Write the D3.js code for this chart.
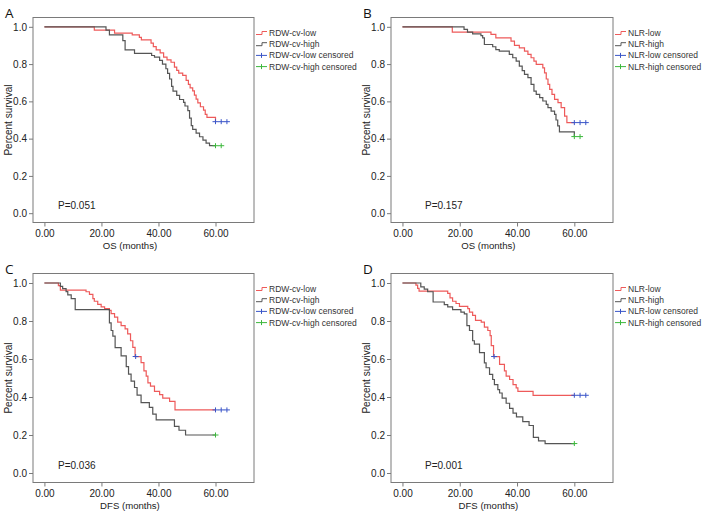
<!DOCTYPE html>
<html><head><meta charset="utf-8">
<script src="https://cdn.jsdelivr.net/npm/d3@7"></script>
<style>
body{margin:0;background:#fff}
svg{display:block}
text{font-family:"Liberation Sans",Arial,Helvetica,sans-serif}
</style>
</head><body>
<svg id="c" width="702" height="513"></svg>
<script>
// ---- tick values ----
const monthTicks = [0, 20, 40, 60];
const survTicks = [0, 0.2, 0.4, 0.6, 0.8, 1.0];

// ---- Panel A: OS by RDW-cv ([months, survival]) ----
const aLow = [[0,1],[17.5,0.982],[24.6,0.966],[30.8,0.957],[33.3,0.943],[34,0.93],[37.4,0.913],[38.2,0.894],[39.2,0.876],[40.6,0.86],[41.8,0.837],[43,0.823],[44.4,0.81],[45.6,0.784],[46.4,0.766],[47.1,0.752],[48.5,0.739],[49.7,0.713],[50.5,0.691],[51.1,0.672],[52,0.656],[52.6,0.633],[53.2,0.612],[53.8,0.592],[54.7,0.571],[55.8,0.553],[56.4,0.53],[57,0.514],[60,0.491]];
const aHigh = [[0,1],[21.6,0.982],[22.8,0.957],[27.5,0.926],[28.3,0.876],[31.6,0.858],[37.6,0.846],[38.6,0.837],[40.4,0.82],[41.4,0.8],[42.6,0.775],[43.2,0.75],[43.9,0.72],[44.6,0.68],[45.1,0.655],[46.4,0.632],[47.4,0.61],[48.8,0.595],[49.3,0.575],[50.3,0.55],[50.9,0.51],[51.5,0.47],[52,0.45],[53.2,0.43],[54.4,0.41],[55.6,0.392],[56.7,0.376],[57.9,0.362]];
const aLowCens = [60, 62, 64];
const aHighCens = [60, 62];

// ---- Panel B: OS by NLR ----
const bLow = [[0,1],[17.4,0.972],[30.9,0.959],[32.6,0.941],[37.9,0.923],[39.1,0.9],[40.8,0.887],[42.6,0.87],[43.8,0.852],[44.9,0.834],[45.9,0.816],[46.7,0.798],[49,0.78],[49.6,0.753],[50.2,0.72],[50.8,0.691],[51.4,0.664],[52.2,0.637],[53.1,0.611],[54.3,0.593],[55.4,0.566],[56.6,0.521],[57.4,0.486]];
const bHigh = [[0,1],[21.5,0.986],[22.7,0.971],[24.5,0.962],[27.4,0.953],[28,0.941],[28.6,0.905],[31.5,0.893],[32.6,0.878],[33.8,0.87],[37.3,0.852],[38.5,0.834],[39.7,0.816],[40.8,0.789],[41.8,0.765],[42.6,0.745],[43.8,0.727],[44.9,0.691],[45.9,0.655],[46.7,0.637],[47.9,0.62],[49,0.602],[50.2,0.584],[50.8,0.566],[51.9,0.548],[53.1,0.53],[53.6,0.5],[54.2,0.468],[54.8,0.436],[60,0.411]];
const bLowCens = [60, 62, 64];
const bHighCens = [60, 62];

// ---- Panel C: DFS by RDW-cv ----
const cLow = [[0,1],[4.9,0.986],[5.6,0.963],[14.6,0.954],[15.8,0.94],[17,0.918],[17.5,0.904],[18.7,0.887],[19.9,0.874],[21.1,0.865],[22.8,0.856],[23.4,0.839],[24.6,0.82],[25.7,0.794],[26.9,0.776],[28.3,0.759],[29.2,0.732],[30.2,0.696],[31,0.661],[31.8,0.613],[33.9,0.581],[34.9,0.537],[35.7,0.51],[36.3,0.474],[37.2,0.457],[38.6,0.43],[40.4,0.412],[41.5,0.394],[43.9,0.377],[45.8,0.332]];
const cHigh = [[0,1],[5.6,0.982],[6.4,0.97],[7.6,0.955],[8.2,0.938],[9.4,0.918],[10.8,0.86],[22.8,0.79],[23.4,0.75],[24,0.72],[24.8,0.66],[26.9,0.616],[28.7,0.56],[29.5,0.52],[30.4,0.484],[31.6,0.45],[32.5,0.41],[33.9,0.37],[36.8,0.345],[38,0.31],[39.2,0.28],[45.6,0.245],[47.2,0.225],[49.5,0.2]];
const cLowCens = [32, 60, 62, 64];
const cHighCens = [60];

// ---- Panel D: DFS by NLR ----
const dLow = [[0,1],[4.7,0.989],[5.3,0.972],[5.8,0.957],[15.8,0.945],[16.6,0.922],[17.5,0.904],[18.7,0.892],[19.9,0.877],[22.8,0.865],[23.4,0.847],[24.5,0.83],[25.5,0.803],[27.5,0.794],[28.6,0.768],[29.8,0.75],[30.6,0.723],[31,0.67],[31.8,0.613],[33.9,0.572],[35.6,0.537],[36.2,0.51],[37.4,0.492],[38.6,0.465],[39.7,0.448],[40.3,0.43],[45.6,0.409]];
const dHigh = [[0,1],[6.4,0.98],[7.6,0.968],[8.8,0.954],[10.7,0.9],[14.6,0.886],[15.8,0.874],[17.5,0.86],[20.4,0.847],[21.6,0.838],[22.5,0.776],[23.4,0.75],[24.5,0.696],[25.1,0.678],[26.9,0.634],[28.6,0.58],[29.2,0.554],[30.4,0.519],[31.5,0.492],[32.1,0.465],[33.3,0.439],[33.9,0.421],[34.8,0.394],[36.2,0.367],[37.4,0.34],[38.6,0.315],[39.8,0.295],[42,0.27],[44.2,0.25],[45.7,0.187],[47.5,0.169],[49.8,0.155]];
const dLowCens = [32, 60, 62, 64];
const dHighCens = [60];

const rdwNames = ["RDW-cv-low", "RDW-cv-high", "RDW-cv-low censored", "RDW-cv-high censored"];
const nlrNames = ["NLR-low", "NLR-high", "NLR-low censored", "NLR-high censored"];
const pValues = ["P=0.051", "P=0.157", "P=0.036", "P=0.001"];
const xTitles = ["OS (months)", "OS (months)", "DFS (months)", "DFS (months)"];
const letters = ["A", "B", "C", "D"];

// ---- colours / layout ----
const RED = "#ee5a5a", GRAY = "#555555", BLUE = "#3a55c8", GREEN = "#3cb83c";
const FRAME = "#7a7a7a";

const panels = [
  {low:aLow, high:aHigh, lowC:aLowCens, highC:aHighCens, names:rdwNames, left:33, right:254, top:17.5, bottom:222.5, pX:58},
  {low:bLow, high:bHigh, lowC:bLowCens, highC:bHighCens, names:nlrNames, left:391, right:613, top:17.5, bottom:222.5, pX:425},
  {low:cLow, high:cHigh, lowC:cLowCens, highC:cHighCens, names:rdwNames, left:33, right:254, top:273.5, bottom:482.5, pX:58},
  {low:dLow, high:dHigh, lowC:dLowCens, highC:dHighCens, names:nlrNames, left:391, right:613, top:273.5, bottom:482.5, pX:425}
];

const svg = d3.select("#c");

function survAt(series, t) {
  let s = 1;
  for (const [tt, ss] of series) { if (tt <= t) s = ss; }
  return s;
}

panels.forEach((p, i) => {
  const g = svg.append("g");
  const x = d3.scaleLinear().domain([-4, 73.5]).range([p.left, p.right]);
  const y = d3.scaleLinear().domain([-0.05, 1.05]).range([p.bottom, p.top]);

  // frame
  g.append("rect").attr("x", p.left).attr("y", p.top)
    .attr("width", p.right - p.left).attr("height", p.bottom - p.top)
    .attr("fill", "none").attr("stroke", FRAME).attr("stroke-width", 1);

  // axes
  const ya = g.append("g").attr("transform", `translate(${p.left},0)`)
    .call(d3.axisLeft(y).tickValues(survTicks).tickFormat(d3.format(".1f")).tickSize(4).tickPadding(2));
  const xa = g.append("g").attr("transform", `translate(0,${p.bottom})`)
    .call(d3.axisBottom(x).tickValues(monthTicks).tickFormat(d3.format(".2f")).tickSize(4).tickPadding(3));
  [ya, xa].forEach(a => {
    a.select(".domain").remove();
    a.selectAll(".tick line").attr("stroke", FRAME);
    a.selectAll(".tick text").attr("fill", "#222").style("font-size", "10px")
      .style("font-family", '"Liberation Sans", Arial, sans-serif');
  });

  // axis titles
  g.append("text").attr("transform", `translate(${p.left - 21},${(p.top + p.bottom) / 2}) rotate(-90)`)
    .attr("text-anchor", "middle").attr("fill", "#222").style("font-size", "10px").text("Percent survival");
  g.append("text").attr("x", x(30)).attr("y", p.bottom + 26)
    .attr("text-anchor", "middle").attr("fill", "#222").style("font-size", "9.6px").text(xTitles[i]);

  // panel letter
  g.append("text").attr("x", p.left - 28).attr("y", p.top).attr("fill", "#111")
    .style("font-size", "13.5px").style("font-family", '"Open Sans", "Liberation Sans", sans-serif').text(letters[i]);

  // p value
  g.append("text").attr("x", p.pX).attr("y", y(0) - 4).attr("fill", "#222")
    .style("font-size", "10px").text(pValues[i]);

  // curves
  const line = d3.line().x(d => x(d[0])).y(d => y(d[1])).curve(d3.curveStepAfter);
  [[p.low, p.lowC, RED], [p.high, p.highC, GRAY]].forEach(([series, cens, col]) => {
    const last = series[series.length - 1];
    const end = Math.max(last[0], d3.max(cens.filter(c => c >= last[0]).concat([last[0]])) && d3.min(cens.filter(c => c >= last[0])) || last[0]);
    const pts = series.concat([[end, last[1]]]);
    g.append("path").datum(pts).attr("d", line)
      .attr("fill", "none").attr("stroke", col).attr("stroke-width", 1.2).attr("stroke-linejoin", "miter");
  });
  // censor marks
  [[p.low, p.lowC, BLUE], [p.high, p.highC, GREEN]].forEach(([series, cens, col]) => {
    g.selectAll(null).data(cens).enter().append("path")
      .attr("d", c => {
        const cx = x(c), cy = y(survAt(series, c));
        return `M${cx - 3},${cy}H${cx + 3}M${cx},${cy - 2.5}V${cy + 2.5}`;
      })
      .attr("stroke", col).attr("stroke-width", 1).attr("fill", "none");
  });

  // legend
  const lx = p.right + 2;
  const cols = [RED, GRAY, BLUE, GREEN];
  p.names.forEach((name, k) => {
    const ly = p.top + 15.5 + k * 11.2;
    if (k < 2) {
      g.append("path").attr("d", `M${lx},${ly + 1.5}H${lx + 6}V${ly - 1.5}H${lx + 11}`)
        .attr("stroke", cols[k]).attr("fill", "none").attr("stroke-width", 1);
    } else {
      g.append("path").attr("d", `M${lx},${ly}H${lx + 11}M${lx + 5.5},${ly - 2.5}V${ly + 2.5}`)
        .attr("stroke", cols[k]).attr("fill", "none").attr("stroke-width", 1);
    }
    g.append("text").attr("x", lx + 13).attr("y", ly + 3).attr("fill", "#333")
      .style("font-size", "8.5px").text(name);
  });
});
</script>
</body></html>
